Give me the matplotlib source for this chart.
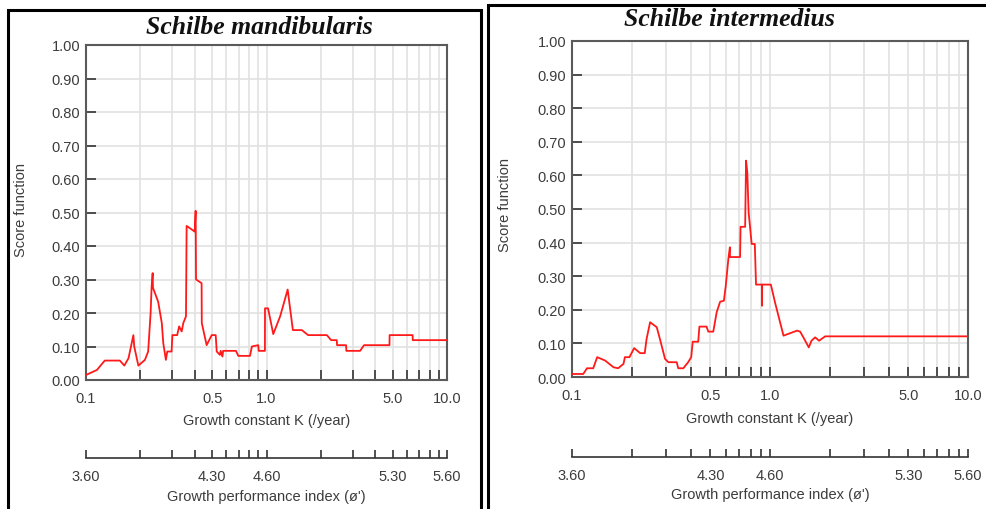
import numpy as np
import matplotlib
matplotlib.use("Agg")
import matplotlib.pyplot as plt
from matplotlib.patches import Rectangle

k_mand = [0.100, 0.115, 0.127, 0.154, 0.163, 0.172, 0.183, 0.185, 0.195, 0.212,
          0.221, 0.228, 0.231, 0.234, 0.235, 0.251, 0.263, 0.268, 0.277, 0.282,
          0.298, 0.301, 0.320, 0.328, 0.339, 0.346, 0.358, 0.361, 0.400, 0.405,
          0.407, 0.437, 0.438, 0.466, 0.497, 0.523, 0.530, 0.552, 0.557, 0.570,
          0.575, 0.677, 0.698, 0.810, 0.830, 0.900, 0.905, 0.980, 0.981, 1.02,
          1.09, 1.19, 1.31, 1.40, 1.57, 1.70, 2.16, 2.28, 2.45, 2.46,
          2.76, 2.77, 3.30, 3.47, 4.80, 4.81, 6.45, 6.46, 10.0]
s_mand = [0.015, 0.030, 0.058, 0.058, 0.043, 0.065, 0.134, 0.100, 0.043, 0.060,
          0.085, 0.200, 0.279, 0.319, 0.275, 0.234, 0.170, 0.110, 0.060, 0.085,
          0.085, 0.134, 0.134, 0.160, 0.145, 0.170, 0.190, 0.460, 0.443, 0.505,
          0.300, 0.289, 0.170, 0.104, 0.134, 0.134, 0.085, 0.075, 0.087, 0.070,
          0.087, 0.087, 0.072, 0.072, 0.100, 0.104, 0.087, 0.087, 0.214, 0.214,
          0.137, 0.190, 0.270, 0.149, 0.149, 0.134, 0.134, 0.119, 0.119, 0.104,
          0.104, 0.087, 0.087, 0.104, 0.104, 0.134, 0.134, 0.119, 0.119]

k_inter = [0.100, 0.114, 0.119, 0.128, 0.134, 0.147, 0.162, 0.171, 0.182, 0.185,
           0.195, 0.206, 0.221, 0.233, 0.238, 0.248, 0.268, 0.278, 0.295, 0.307,
           0.338, 0.344, 0.365, 0.386, 0.400, 0.407, 0.434, 0.440, 0.478, 0.488,
           0.517, 0.538, 0.560, 0.585, 0.598, 0.616, 0.627, 0.628, 0.706, 0.710,
           0.749, 0.757, 0.768, 0.780, 0.808, 0.838, 0.850, 0.910, 0.911, 0.912,
           1.01, 1.06, 1.17, 1.37, 1.42, 1.49, 1.57, 1.62, 1.69, 1.77,
           1.90, 10.0]
s_inter = [0.009, 0.009, 0.026, 0.026, 0.059, 0.049, 0.029, 0.026, 0.039, 0.059,
           0.059, 0.086, 0.071, 0.071, 0.113, 0.163, 0.148, 0.113, 0.054, 0.044,
           0.044, 0.026, 0.026, 0.044, 0.059, 0.105, 0.105, 0.150, 0.150, 0.135,
           0.135, 0.193, 0.224, 0.227, 0.272, 0.351, 0.386, 0.357, 0.357, 0.447,
           0.447, 0.644, 0.609, 0.490, 0.396, 0.396, 0.275, 0.275, 0.212, 0.275,
           0.275, 0.222, 0.123, 0.138, 0.135, 0.113, 0.088, 0.108, 0.118, 0.108,
           0.121, 0.121]

k_ticks = [0.1, 0.2, 0.3, 0.4, 0.5, 0.6, 0.7, 0.8, 0.9,
           1.0, 2.0, 3.0, 4.0, 5.0, 6.0, 7.0, 8.0, 9.0, 10.0]
k_labels = {0.1: "0.1", 0.5: "0.5", 1.0: "1.0", 5.0: "5.0", 10.0: "10.0"}
phi_labels = {0.1: "3.60", 0.5: "4.30", 1.0: "4.60", 5.0: "5.30", 10.0: "5.60"}
phi_at_k1 = 4.60   # phi' = phi'(K=1) + log10(K)
y_ticks = np.round(np.arange(0, 1.01, 0.1), 2)

W, H = 987, 510
TXT = "#3c3c3c"
SPINE = "#5a5a5a"
FS = 10.5
plt.rcParams["font.family"] = ["Liberation Sans", "DejaVu Sans"]
fig = plt.figure(figsize=(W / 100, H / 100), dpi=100)


def box(x0, y0, x1, y1):
    # pixel box -> figure fraction rect
    return [x0 / W, 1 - y1 / H, (x1 - x0) / W, (y1 - y0) / H]


def panel(k, s, ax_px, title, title_xy, ylab_xy, xlab_y, phi_y, philab_y):
    ax = fig.add_axes(box(*ax_px))
    ax.plot(k, s, color="#ff1a1a", lw=1.3, zorder=3)
    ax.set_xscale("log")
    ax.set_xlim(0.1, 10)
    ax.set_ylim(0, 1)
    ax.set_xticks(k_ticks)
    ax.set_xticklabels([k_labels.get(t, "") for t in k_ticks])
    ax.xaxis.set_minor_locator(matplotlib.ticker.NullLocator())
    ax.set_yticks(y_ticks)
    ax.set_yticklabels(["%.2f" % v for v in y_ticks])
    ax.grid(True, color="#e2e2e2", lw=1.2, zorder=0)
    ax.tick_params(axis="x", direction="in", length=7, width=1.2, color="#333333",
                   labelsize=FS, labelcolor=TXT, pad=8)
    ax.tick_params(axis="y", direction="in", length=7, width=1.2, color="#333333",
                   labelsize=FS, labelcolor=TXT, pad=4)
    for sp in ax.spines.values():
        sp.set_color(SPINE)
        sp.set_linewidth(1.5)

    x0, y0, x1, y1 = ax_px
    fig.text(title_xy[0] / W, 1 - title_xy[1] / H, title, ha="center", va="center",
             family="Liberation Serif", style="italic", weight="bold", size=18.5,
             color="#111111")
    fig.text(ylab_xy[0] / W, 1 - ylab_xy[1] / H, "Score function", rotation=90,
             ha="center", va="center", size=FS, color=TXT)
    fig.text((x0 + x1) / 2 / W, 1 - xlab_y / H, "Growth constant K (/year)",
             ha="center", va="center", size=FS, color=TXT)

    # growth performance index scale, linear in log10(K)
    axp = fig.add_axes(box(x0, phi_y - 8, x1, phi_y))
    axp.set_xlim(phi_at_k1 + np.log10(0.1), phi_at_k1 + np.log10(10))
    axp.set_ylim(0, 1)
    axp.set_xticks([phi_at_k1 + np.log10(t) for t in k_ticks])
    axp.set_xticklabels([phi_labels.get(t, "") for t in k_ticks])
    axp.set_yticks([])
    axp.patch.set_visible(False)
    for side in ["top", "left", "right"]:
        axp.spines[side].set_visible(False)
    axp.spines["bottom"].set_color("#333333")
    axp.spines["bottom"].set_linewidth(1.2)
    axp.tick_params(axis="x", direction="in", length=6, width=1.2, color="#333333",
                    labelsize=FS, labelcolor=TXT, pad=8)
    fig.text((x0 + x1) / 2 / W, 1 - philab_y / H, "Growth performance index (\u00f8')",
             ha="center", va="center", size=FS, color=TXT)
    return ax


panel(k_mand, s_mand, (86, 46, 447, 381), "Schilbe mandibularis", (259, 28),
      (21, 210), 421, 459, 497)
panel(k_inter, s_inter, (572, 42, 968, 378), "Schilbe intermedius", (729, 20),
      (505, 205), 419, 458, 495)

# outer frames around each panel
for x0, y0, x1 in [(8, 11, 481), (488, 6, 992)]:
    fig.patches.append(Rectangle((x0 / W, -0.05), (x1 - x0) / W, 1.05 - y0 / H,
                                 transform=fig.transFigure, fill=False,
                                 edgecolor="black", lw=2.2))

fig.savefig("out.png", dpi=100)
